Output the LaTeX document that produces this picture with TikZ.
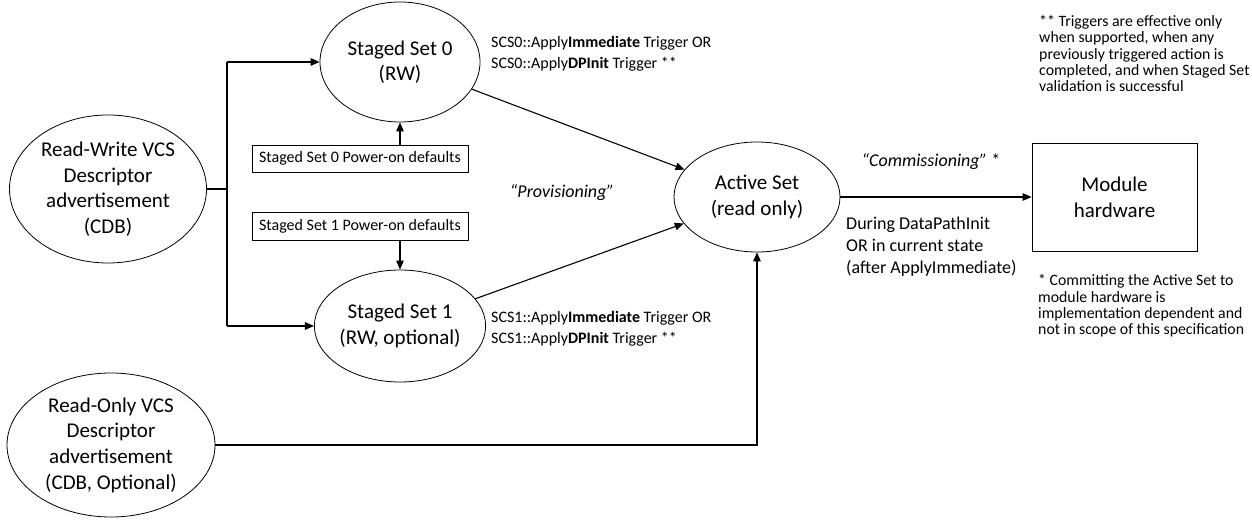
\documentclass[tikz,border=0pt]{standalone}
\usepackage{fontspec}
\setmainfont{Carlito}
\usetikzlibrary{shapes.geometric,arrows.meta,calc}

\begin{document}
\begin{tikzpicture}[x=1pt,y=-1pt,
    every node/.style={font=\fontsize{21}{25.6}\selectfont,align=center},
    setnode/.style={draw,ellipse,inner sep=0pt,line width=0.8pt},
    defbox/.style={draw,rectangle,inner sep=0pt,minimum width=216pt,minimum height=27pt,line width=0.8pt,font=\fontsize{16}{19}\selectfont},
    lbl/.style={font=\fontsize{18}{21.8}\selectfont,align=left,anchor=west,inner sep=0pt},
    trig/.style={font=\fontsize{16}{21}\selectfont,align=left,anchor=west,inner sep=0pt},
    note/.style={font=\fontsize{15.8}{16.3}\selectfont,align=left,anchor=west,inner sep=0pt},
    flow/.style={line width=1.1pt,-{Triangle[length=9pt,width=7.5pt]}}]

    \useasboundingbox (0,0) rectangle (1252,521);

    % descriptor sources
    \node[setnode,minimum width=197pt,minimum height=148pt] (rw) at (108,189)
        {Read-Write VCS\\Descriptor\\advertisement\\(CDB)};
    \node[setnode,minimum width=208pt,minimum height=144pt] (ro) at (111,445)
        {Read-Only VCS\\Descriptor\\advertisement\\(CDB, Optional)};

    % staged sets and defaults
    \node[setnode,minimum width=160pt,minimum height=120pt] (ss0) at (400,62)
        {Staged Set 0\\(RW)};
    \node[setnode,minimum width=160pt,minimum height=112pt] (ss1) at (400,326)
        {Staged Set 1\\(RW, optional)};
    \node[defbox] (def0) at (360,158.5) {Staged Set 0 Power-on defaults};
    \node[defbox,minimum height=28pt] (def1) at (360,226) {Staged Set 1 Power-on defaults};

    % active set and hardware
    \node[setnode,minimum width=166pt,minimum height=110pt] (act) at (757,197)
        {Active Set\\(read only)};
    \node[draw,rectangle,line width=0.8pt,minimum width=165pt,minimum height=108pt] (hw) at (1114.5,197)
        {Module\\hardware};

    % bus from the read-write descriptor
    \coordinate (bus0) at (227,62);
    \coordinate (bus1) at (227,326);
    \draw[line width=1.1pt] (rw.east) -- (rw.east -| bus0);
    \draw[line width=1.1pt] (bus0) -- (bus1);
    \draw[flow] (bus0) -- (ss0);
    \draw[flow] (bus1) -- (ss1);

    \draw[flow] (ss0.south |- def0.north) -- (ss0.south);
    \draw[flow] (ss1.north |- def1.south) -- (ss1.north);

    \draw[flow] (ss0) -- (act);
    \draw[flow] (ss1) -- (act);
    \draw[flow] (ro.east) -| (act.south);
    \draw[flow] (act.east) -- (hw.west);

    % labels
    \node[trig] (trig0) at (491,54) {SCS0::Apply\textbf{Immediate} Trigger OR\\SCS0::Apply\textbf{DPInit} Trigger **};
    \node[trig] (trig1) at (491,329) {SCS1::Apply\textbf{Immediate} Trigger OR\\SCS1::Apply\textbf{DPInit} Trigger **};
    \node[lbl,anchor=center] (prov) at (562,193) {\textit{“Provisioning”}};
    \node[lbl,anchor=center] (comm) at (931,162) {\textit{“Commissioning”} *};
    \node[lbl] (during) at (846,247) {During DataPathInit\\OR in current state\\(after ApplyImmediate)};

    \node[note] (note2) at (1039,53.5) {** Triggers are effective only\\when supported, when any\\previously triggered action is\\completed, and when Staged Set\\validation is successful};
    \node[note] (note1) at (1038,306) {* Committing the Active Set to\\module hardware is\\implementation dependent and\\not in scope of this specification};
\end{tikzpicture}
\end{document}
